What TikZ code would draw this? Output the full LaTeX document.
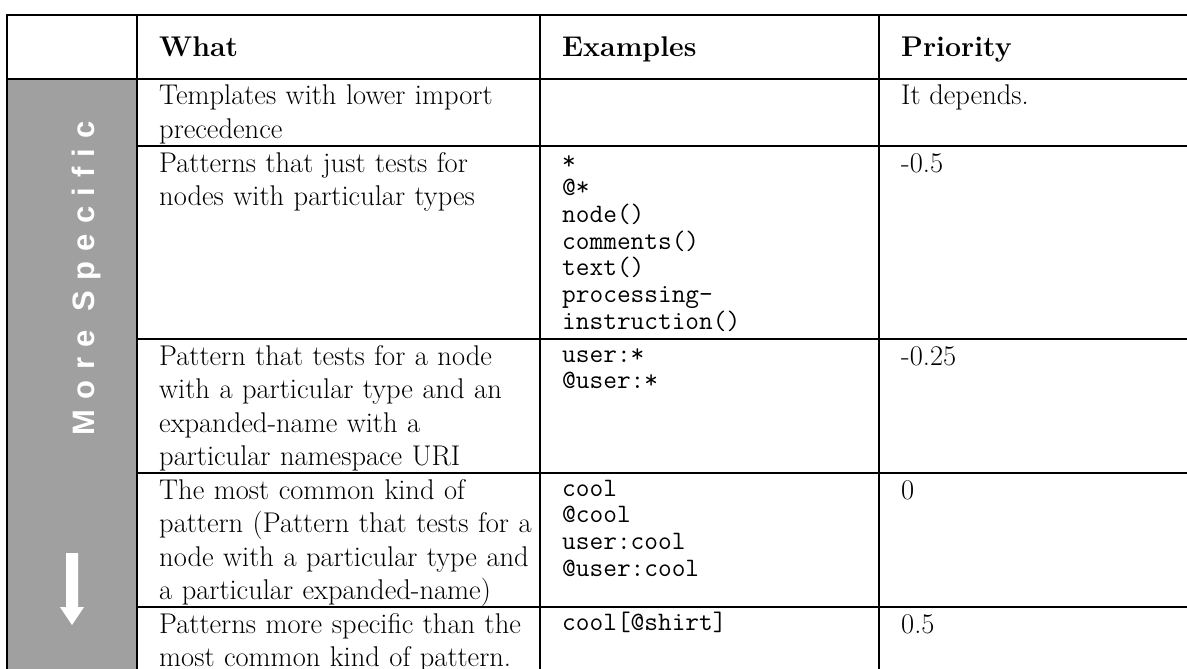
\documentclass[tikz,border=0pt]{standalone}
\usepackage{fontspec}
\newfontfamily\sidefont[LetterSpace=33]{Liberation Sans}
\definecolor{sidegrey}{RGB}{160,160,160}
\tikzset{
  rule/.style={line width=2.6pt, black},
  cell/.style={anchor=base west, inner sep=0pt, text width=378pt, align=left,
    font=\fontsize{28.5}{33.5}\selectfont},
  codecell/.style={anchor=base west, inner sep=0pt, text width=310pt, align=left,
    font=\ttfamily\fontsize{26.6}{26.7}\selectfont},
  prio/.style={anchor=base west, inner sep=0pt, font=\fontsize{28.5}{33.5}\selectfont},
  head/.style={anchor=base west, inner sep=0pt, font=\bfseries\fontsize{28.5}{34}\selectfont},
}
\begin{document}
\begin{tikzpicture}[x=1pt, y=-1pt]
\useasboundingbox (0,0) rectangle (1187,669);
\fill[white] (0,0) rectangle (1187,669);

% shaded side column
\fill[sidegrey] (7,79) rectangle (137,669);
\node[rotate=90, anchor=base, inner sep=0pt, text=white,
      font=\sidefont\bfseries\fontsize{31}{34}\selectfont] (side) at (94,278) {More Specific};
\fill[white] (66,553) -- (78,553) -- (78,607) -- (84,607) -- (72,625) -- (60,607) -- (66,607) -- cycle;

% table rules
\draw[rule] (1187,15) -- (7,15) -- (7,669);
\draw[rule] (7,79) -- (1187,79);
\foreach \y in {146,339,473,607} \draw[rule] (137,\y) -- (1187,\y);
\foreach \x in {137,540,879} \draw[rule] (\x,15) -- (\x,669);

% header
\node[head] (hwhat) at (159,57) {What};
\node[head] (hex) at (562,57) {Examples};
\node[head] (hprio) at (901,57) {Priority};

% row 1
\node[cell] (w1) at (159,105) {Templates with lower import\\precedence};
\node[prio] (p1) at (901,105) {It depends.};

% row 2
\node[cell] (w2) at (159,172) {Patterns that just tests for\\nodes with particular types};
\node[codecell] (e2) at (562,169) {*\\@*\\node()\\comments()\\text()\\processing-\\instruction()};
\node[prio] (p2) at (901,172) {-0.5};

% row 3
\node[cell] (w3) at (159,365) {Pattern that tests for a node\\with a particular type and an\\expanded-name with a\\particular namespace URI};
\node[codecell] (e3) at (562,362) {user:*\\@user:*};
\node[prio] (p3) at (901,365) {-0.25};

% row 4
\node[cell] (w4) at (159,499) {The most common kind of\\pattern (Pattern that tests for a\\node with a particular type and\\a particular expanded-name)};
\node[codecell] (e4) at (562,496) {cool\\@cool\\user:cool\\@user:cool};
\node[prio] (p4) at (901,499) {0};

% row 5
\node[cell] (w5) at (159,633) {Patterns more specific than the\\most common kind of pattern.};
\node[codecell] (e5) at (562,630) {cool[@shirt]};
\node[prio] (p5) at (901,633) {0.5};
\end{tikzpicture}
\end{document}
